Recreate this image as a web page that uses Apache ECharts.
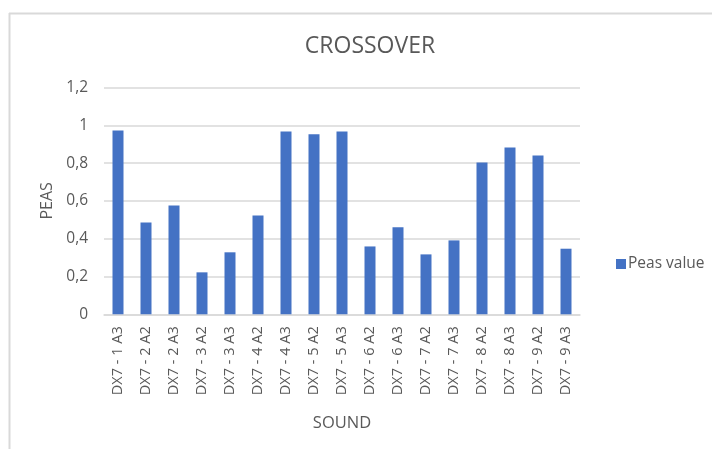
<!DOCTYPE html>
<html>
<head>
<meta charset="utf-8">
<script src="https://cdn.jsdelivr.net/npm/echarts@6/dist/echarts.min.js"></script>
<style>
  html, body { margin: 0; padding: 0; background: #fff; }
  #chart { width: 712px; height: 449px; }
</style>
</head>
<body>
<div id="chart"></div>
<script>
// Sound samples on the x axis
const categories = [
  'DX7 - 1 A3', 'DX7 - 2 A2', 'DX7 - 2 A3', 'DX7 - 3 A2', 'DX7 - 3 A3',
  'DX7 - 4 A2', 'DX7 - 4 A3', 'DX7 - 5 A2', 'DX7 - 5 A3', 'DX7 - 6 A2',
  'DX7 - 6 A3', 'DX7 - 7 A2', 'DX7 - 7 A3', 'DX7 - 8 A2', 'DX7 - 8 A3',
  'DX7 - 9 A2', 'DX7 - 9 A3'
];
// PEAS score per sample
const peasValues = [
  0.973, 0.486, 0.576, 0.222, 0.328,
  0.523, 0.967, 0.953, 0.967, 0.359,
  0.460, 0.317, 0.391, 0.803, 0.883,
  0.840, 0.347
];
const seriesName = 'Peas value';
const yMin = 0, yMax = 1.2, yStep = 0.2;

const textColor = '#595959';
const lineColor = '#d9d9d9';
const font = 'Open Sans';

const chart = echarts.init(document.getElementById('chart'), null, { renderer: 'canvas' });
chart.setOption({
  backgroundColor: '#ffffff',
  animation: false,
  textStyle: { fontFamily: font, color: textColor },
  graphic: [
    { type: 'line', shape: { x1: 9, y1: 13.5, x2: 712, y2: 13.5 }, style: { stroke: lineColor, lineWidth: 2 } },
    { type: 'line', shape: { x1: 9.5, y1: 13, x2: 9.5, y2: 449 }, style: { stroke: lineColor, lineWidth: 2 } }
  ],
  title: {
    text: 'CROSSOVER',
    left: 365,
    textAlign: 'center',
    top: 30,
    textStyle: { fontFamily: font, fontSize: 23, fontWeight: 'normal', color: textColor }
  },
  legend: {
    data: [seriesName],
    orient: 'vertical',
    left: 611,
    top: 251,
    itemWidth: 10,
    itemHeight: 10,
    itemGap: 5,
    icon: 'rect',
    textStyle: { fontFamily: font, fontSize: 15.5, color: textColor, padding: [0, 0, 0, -3] }
  },
  grid: { left: 104, right: 132, top: 87.5, bottom: 134.7, containLabel: false },
  xAxis: {
    type: 'category',
    data: categories,
    name: 'SOUND',
    nameLocation: 'middle',
    nameGap: 100,
    nameTextStyle: { fontFamily: font, fontSize: 16.5, color: textColor },
    axisLine: { lineStyle: { color: lineColor, width: 1.5 } },
    axisTick: { show: false },
    axisLabel: { rotate: 90, interval: 0, margin: 12, fontFamily: font, fontSize: 14.5, color: textColor }
  },
  yAxis: {
    type: 'value',
    min: yMin,
    max: yMax,
    interval: yStep,
    name: 'PEAS',
    nameLocation: 'middle',
    nameGap: 47,
    nameRotate: 90,
    nameTextStyle: { fontFamily: font, fontSize: 16, color: textColor },
    axisLine: { show: false },
    axisTick: { show: false },
    axisLabel: {
      margin: 16,
      fontFamily: font,
      fontSize: 15.5,
      color: textColor,
      formatter: v => String(+v.toFixed(1)).replace('.', ',')
    },
    splitLine: { lineStyle: { color: lineColor, width: 1.5 } }
  },
  series: [{
    name: seriesName,
    type: 'bar',
    data: peasValues,
    barWidth: 11,
    itemStyle: { color: '#4472c4' }
  }]
});
</script>
</body>
</html>
